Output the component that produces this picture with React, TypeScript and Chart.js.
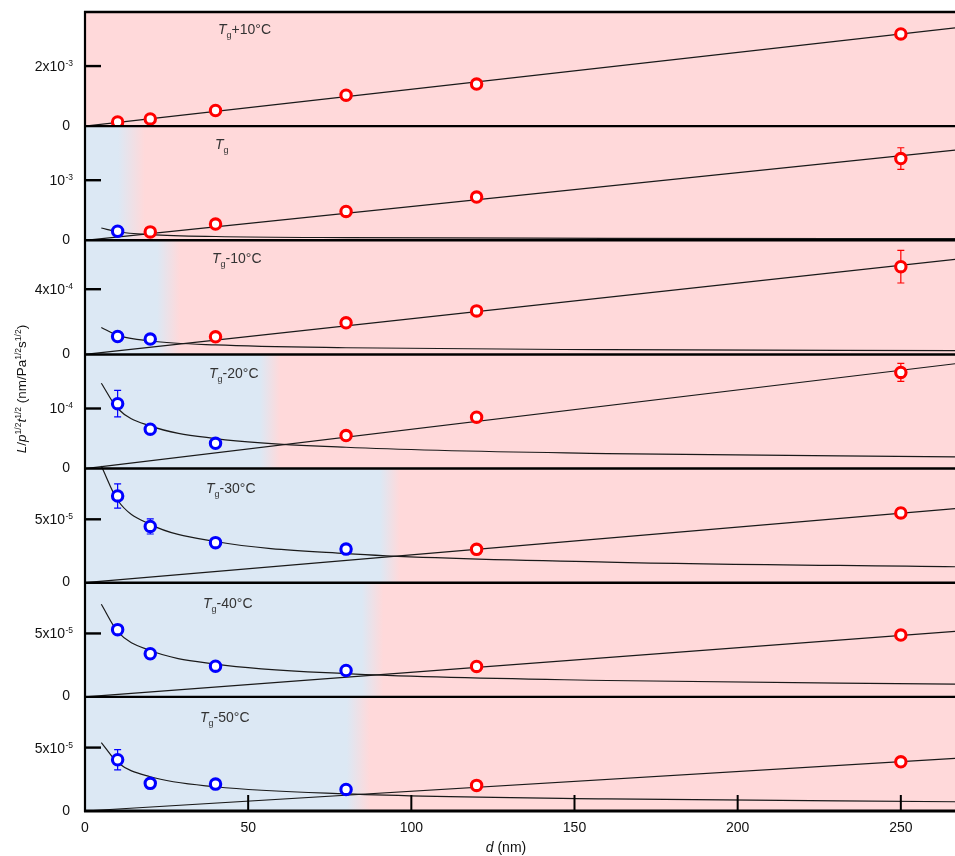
import React, { useEffect, useRef } from 'react';
import { Chart, registerables } from 'chart.js';

Chart.register(...registerables);

// ---------------- data ----------------
const D_NM = [10, 20, 40, 80, 120, 250];
const X_TICKS = [0, 50, 100, 150, 200, 250];
const X_MAX = 266.6;

const PANEL_SUFFIX = ['+10°C', '', '-10°C', '-20°C', '-30°C', '-40°C', '-50°C'];
const Y_MAX = [3.8e-3, 1.9e-3, 7e-4, 1.9e-4, 9e-5, 9e-5, 9e-5];
const Y_TICK = [2e-3, 1e-3, 4e-4, 1e-4, 5e-5, 5e-5, 5e-5];
const Y_TICK_MANTISSA = ['2x10', '10', '4x10', '10', '5x10', '5x10', '5x10'];
const Y_TICK_EXPONENT = ['-3', '-3', '-4', '-4', '-5', '-5', '-5'];

// number of leading points in the glassy (blue) regime
const GLASSY_COUNT = [0, 1, 2, 3, 4, 4, 4];

// measured L/p^1/2 t^1/2 per panel
const L_TG_P10 = [1.4e-4, 2.4e-4, 5.2e-4, 1.03e-3, 1.4e-3, 3.07e-3];
const L_TG = [1.5e-4, 1.4e-4, 2.7e-4, 4.8e-4, 7.2e-4, 1.36e-3];
const L_TG_M10 = [1.1e-4, 9.4e-5, 1.08e-4, 1.94e-4, 2.67e-4, 5.38e-4];
const L_TG_M20 = [1.08e-4, 6.55e-5, 4.2e-5, 5.5e-5, 8.55e-5, 1.6e-4];
const L_TG_M30 = [6.84e-5, 4.44e-5, 3.16e-5, 2.65e-5, 2.63e-5, 5.5e-5];
const L_TG_M40 = [5.3e-5, 3.4e-5, 2.42e-5, 2.08e-5, 2.4e-5, 4.87e-5];
const L_TG_M50 = [4.04e-5, 2.18e-5, 2.12e-5, 1.7e-5, 2.02e-5, 3.88e-5];

// error bars (± values)
const E_TG_P10 = [2e-5, 2e-5, 2e-5, 0, 0, 0];
const E_TG = [1e-5, 1e-5, 1e-5, 0, 0, 1.8e-4];
const E_TG_M10 = [0, 0, 0, 0, 0, 1.0e-4];
const E_TG_M20 = [2.2e-5, 0, 0, 0, 0, 1.5e-5];
const E_TG_M30 = [9.6e-6, 6e-6, 0, 2.4e-6, 0, 4e-6];
const E_TG_M40 = [0, 0, 0, 0, 3e-6, 0];
const E_TG_M50 = [8e-6, 2e-6, 0, 0, 0, 0];

// fitted curves
const FALL_D = [5, 10, 20, 40, 80, 160, 266.6];
const FALL_TG = [2.05e-4, 1.42e-4, 9.5e-5, 6.3e-5, 4.4e-5, 3.3e-5, 2.6e-5];
const FALL_M10 = [1.65e-4, 1.17e-4, 8.25e-5, 5.8e-5, 4.1e-5, 2.9e-5, 2.3e-5];
const FALL_M20 = [1.42e-4, 1.0e-4, 7.1e-5, 5.0e-5, 3.55e-5, 2.5e-5, 1.95e-5];
const FALL_M30 = [9.2e-5, 6.5e-5, 4.6e-5, 3.25e-5, 2.3e-5, 1.63e-5, 1.26e-5];
const FALL_M40 = [7.3e-5, 5.15e-5, 3.65e-5, 2.58e-5, 1.83e-5, 1.29e-5, 1.0e-5];
const FALL_M50 = [5.4e-5, 3.82e-5, 2.7e-5, 1.91e-5, 1.35e-5, 9.5e-6, 7.3e-6];

const RISE_D = [0, 266.6];
const RISE_START = 0;
const RISE_END = [3.27e-3, 1.5e-3, 5.83e-4, 1.745e-4, 5.84e-5, 5.16e-5, 4.15e-5];

// regime boundary (d in nm): blue until BLUE_END, pink from PINK_START
const BLUE_END = [-2, 10.1, 22.1, 53.6, 90.4, 84.8, 80.2];
const PINK_START = [-1, 18.3, 29.1, 59.8, 96.5, 91.4, 87.3];

const VALUES = [L_TG_P10, L_TG, L_TG_M10, L_TG_M20, L_TG_M30, L_TG_M40, L_TG_M50];
const ERRORS = [E_TG_P10, E_TG, E_TG_M10, E_TG_M20, E_TG_M30, E_TG_M40, E_TG_M50];
const FALLS = [null, FALL_TG, FALL_M10, FALL_M20, FALL_M30, FALL_M40, FALL_M50];

// ---------------- styles ----------------
const BLUE = '#0000ff';
const RED = '#ff0000';
const BLUE_BG = '#dce8f4';
const PINK_BG = '#ffd9da';
const FONT = 'Arial, "Liberation Sans", Helvetica, sans-serif';

type Part = { t: string; it?: boolean; sup?: boolean; sub?: boolean };

function partFont(p: Part, size: number, small: number) {
  const s = p.sup || p.sub ? small : size;
  return `${p.it ? 'italic ' : ''}${s}px ${FONT}`;
}
function measureParts(ctx: CanvasRenderingContext2D, parts: Part[], size: number, small: number) {
  let w = 0;
  for (const p of parts) {
    ctx.font = partFont(p, size, small);
    w += ctx.measureText(p.t).width;
  }
  return w;
}
function drawParts(
  ctx: CanvasRenderingContext2D,
  parts: Part[],
  x: number,
  y: number,
  size: number,
  small: number,
  supShift: number,
  subShift: number
) {
  ctx.textAlign = 'left';
  ctx.textBaseline = 'alphabetic';
  let cx = x;
  for (const p of parts) {
    ctx.font = partFont(p, size, small);
    const dy = p.sup ? -supShift : p.sub ? subShift : 0;
    ctx.fillText(p.t, cx, y + dy);
    cx += ctx.measureText(p.t).width;
  }
  return cx;
}

const PANEL_KEYS = VALUES.map((_, i) => `y${i}`);

const panelPlugin = {
  id: 'panelDecor',
  beforeDatasetsDraw(chart: any) {
    const ctx: CanvasRenderingContext2D = chart.ctx;
    const area = chart.chartArea;
    const xs = chart.scales.x;
    ctx.save();
    PANEL_KEYS.forEach((key, i) => {
      const ys = chart.scales[key];
      const x0 = xs.getPixelForValue(BLUE_END[i]);
      const x1 = xs.getPixelForValue(PINK_START[i]);
      const g = ctx.createLinearGradient(x0, 0, x1, 0);
      g.addColorStop(0, BLUE_BG);
      g.addColorStop(1, PINK_BG);
      ctx.fillStyle = g;
      ctx.fillRect(area.left, ys.top, area.right - area.left, ys.bottom - ys.top);
    });
    // error bars (beneath markers)
    ctx.lineWidth = 1.2;
    PANEL_KEYS.forEach((key, i) => {
      const ys = chart.scales[key];
      D_NM.forEach((d, k) => {
        const e = ERRORS[i][k];
        if (!e) return;
        const v = VALUES[i][k];
        const px = xs.getPixelForValue(d);
        const yTop = ys.getPixelForValue(v + e);
        const yBot = ys.getPixelForValue(v - e);
        ctx.strokeStyle = k < GLASSY_COUNT[i] ? BLUE : RED;
        ctx.beginPath();
        ctx.moveTo(px, yTop);
        ctx.lineTo(px, yBot);
        ctx.moveTo(px - 3.5, yTop);
        ctx.lineTo(px + 3.5, yTop);
        ctx.moveTo(px - 3.5, yBot);
        ctx.lineTo(px + 3.5, yBot);
        ctx.stroke();
      });
    });
    ctx.restore();
  },
  afterDraw(chart: any) {
    const ctx: CanvasRenderingContext2D = chart.ctx;
    const area = chart.chartArea;
    const xs = chart.scales.x;
    ctx.save();
    ctx.strokeStyle = '#000';
    // panel separators
    PANEL_KEYS.forEach((key) => {
      const ys = chart.scales[key];
      ctx.lineWidth = 2.4;
      ctx.beginPath();
      ctx.moveTo(area.left - 1, ys.top);
      ctx.lineTo(area.right, ys.top);
      ctx.stroke();
    });
    // bottom axis line
    ctx.lineWidth = 3;
    ctx.beginPath();
    ctx.moveTo(area.left - 1, area.bottom);
    ctx.lineTo(area.right, area.bottom);
    ctx.stroke();
    // left axis line
    ctx.lineWidth = 2.2;
    ctx.beginPath();
    ctx.moveTo(area.left, area.top - 1);
    ctx.lineTo(area.left, area.bottom + 1);
    ctx.stroke();

    // x ticks (inward) and labels
    ctx.lineWidth = 2;
    X_TICKS.forEach((v) => {
      const px = xs.getPixelForValue(v);
      if (v > 0) {
        ctx.beginPath();
        ctx.moveTo(px, area.bottom);
        ctx.lineTo(px, area.bottom - 16);
        ctx.stroke();
      }
    });
    ctx.fillStyle = '#111';
    ctx.font = `14px ${FONT}`;
    ctx.textAlign = 'center';
    ctx.textBaseline = 'alphabetic';
    X_TICKS.forEach((v) => {
      ctx.fillText(String(v), xs.getPixelForValue(v), area.bottom + 21);
    });

    // y ticks and labels
    PANEL_KEYS.forEach((key, i) => {
      const ys = chart.scales[key];
      const py = ys.getPixelForValue(Y_TICK[i]);
      ctx.strokeStyle = '#000';
      ctx.lineWidth = 2.4;
      ctx.beginPath();
      ctx.moveTo(area.left, py);
      ctx.lineTo(area.left + 16, py);
      ctx.stroke();
      ctx.fillStyle = '#111';
      ctx.font = `14px ${FONT}`;
      ctx.textAlign = 'right';
      ctx.textBaseline = 'alphabetic';
      ctx.fillText(Y_TICK_MANTISSA[i], 65, py + 5);
      ctx.textAlign = 'left';
      ctx.font = `8.5px ${FONT}`;
      ctx.fillText(Y_TICK_EXPONENT[i], 65.5, py);
      const pz = ys.getPixelForValue(0);
      ctx.font = `14px ${FONT}`;
      ctx.textAlign = 'right';
      ctx.fillText('0', 70, pz + 3.5);
    });

    // panel labels
    ctx.fillStyle = '#333';
    PANEL_KEYS.forEach((key, i) => {
      const ys = chart.scales[key];
      const parts: Part[] = [{ t: 'T', it: true }, { t: 'g', sub: true }];
      if (PANEL_SUFFIX[i]) parts.push({ t: PANEL_SUFFIX[i] });
      drawParts(ctx, parts, 218 - 3 * i, ys.top + 22 + 0.6 * i, 14, 9, 5, 4);
    });

    // x title
    ctx.fillStyle = '#111';
    const xt: Part[] = [{ t: 'd', it: true }, { t: ' (nm)' }];
    const xw = measureParts(ctx, xt, 14, 9);
    drawParts(ctx, xt, 506 - xw / 2, 852, 14, 9, 5, 4);

    // y title
    const yt: Part[] = [
      { t: 'L', it: true },
      { t: '/' },
      { t: 'p', it: true },
      { t: '1/2', sup: true },
      { t: 't', it: true },
      { t: '1/2', sup: true },
      { t: ' (nm/Pa' },
      { t: '1/2', sup: true },
      { t: 's' },
      { t: '1/2', sup: true },
      { t: ')' },
    ];
    ctx.translate(26, 389);
    ctx.rotate(-Math.PI / 2);
    const yw = measureParts(ctx, yt, 13.5, 8.5);
    drawParts(ctx, yt, -yw / 2, 0, 13.5, 8.5, 5, 4);
    ctx.restore();
  },
};

function buildConfig(): any {
  const datasets: any[] = [];
  const scales: any = {
    x: {
      type: 'linear',
      position: 'bottom',
      min: 0,
      max: X_MAX,
      grid: { display: false, drawTicks: false },
      border: { display: false },
      ticks: { display: false },
      afterFit: (s: any) => {
        s.height = 45;
      },
    },
  };
  VALUES.forEach((vals, i) => {
    const yAxisID = `y${i}`;
    scales[yAxisID] = {
      type: 'linear',
      position: 'left',
      stack: 'panels',
      stackWeight: 1,
      weight: VALUES.length - i,
      min: 0,
      max: Y_MAX[i],
      grid: { display: false, drawTicks: false },
      border: { display: false },
      ticks: { display: false },
      afterFit: (s: any) => {
        s.width = 85;
      },
    };
    const n = GLASSY_COUNT[i];
    const pts = D_NM.map((d, k) => ({ x: d, y: vals[k] }));
    const marker = {
      showLine: false,
      pointRadius: 5.2,
      pointBorderWidth: 3.1,
      pointBackgroundColor: '#ffffff',
      pointHoverRadius: 5.2,
      order: 0,
      xAxisID: 'x',
      yAxisID,
    };
    if (n > 0) {
      datasets.push({ ...marker, label: `glassy ${i}`, data: pts.slice(0, n), pointBorderColor: BLUE, borderColor: BLUE });
    }
    datasets.push({ ...marker, label: `rubbery ${i}`, data: pts.slice(n), pointBorderColor: RED, borderColor: RED });
    datasets.push({
      label: `rise ${i}`,
      data: RISE_D.map((d, k) => ({ x: d, y: k === 0 ? RISE_START : RISE_END[i] })),
      showLine: true,
      pointRadius: 0,
      borderColor: '#1a1a1a',
      borderWidth: 1.2,
      order: 1,
      clip: false,
      xAxisID: 'x',
      yAxisID,
    });
    const fall = FALLS[i];
    if (fall) {
      datasets.push({
        label: `fall ${i}`,
        data: FALL_D.map((d, k) => ({ x: d, y: fall[k] })),
        showLine: true,
        pointRadius: 0,
        borderColor: '#1a1a1a',
        borderWidth: 1.2,
        cubicInterpolationMode: 'monotone',
        order: 1,
        clip: false,
        xAxisID: 'x',
        yAxisID,
      });
    }
  });
  return {
    type: 'scatter',
    data: { datasets },
    options: {
      responsive: false,
      animation: false,
      events: [],
      devicePixelRatio: 1,
      layout: { autoPadding: false, padding: { top: 12, left: 0, right: 0, bottom: 0 } },
      plugins: { legend: { display: false }, tooltip: { enabled: false } },
      scales,
    },
    plugins: [panelPlugin],
  };
}

export default function App() {
  const ref = useRef<HTMLCanvasElement | null>(null);
  useEffect(() => {
    if (!ref.current) return;
    const chart = new Chart(ref.current, buildConfig());
    return () => chart.destroy();
  }, []);
  return (
    <div style={{ position: 'absolute', left: 0, top: 0, width: 955, height: 856, background: '#fff' }}>
      <canvas ref={ref} width={955} height={856} style={{ display: 'block', width: 955, height: 856 }} />
    </div>
  );
}
